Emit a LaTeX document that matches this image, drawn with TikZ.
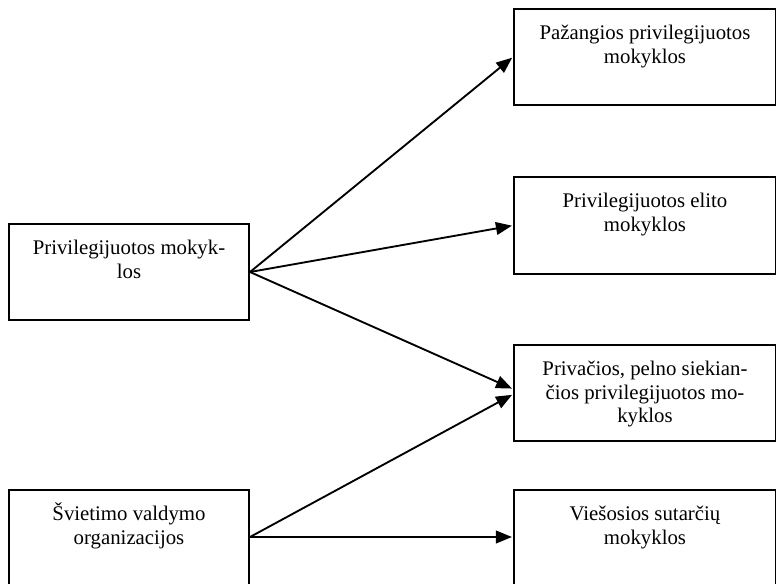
\documentclass[tikz,border=0pt]{standalone}
\usepackage{fontspec}
\setmainfont{Liberation Serif}
\usetikzlibrary{arrows.meta}
\newcommand{\boxtext}[3]{\parbox[c][#2][t]{#1}{\centering\fontsize{15.6pt}{17.6pt}\selectfont\rule{0pt}{23pt}#3}}
\begin{document}
\begin{tikzpicture}[x=0.75pt,y=-0.75pt,
  box/.style={draw=black,line width=1.5pt,inner sep=0pt,anchor=north west},
  conn/.style={line width=1.4pt,-{Triangle[length=12pt,width=9.5pt]},shorten >=0.8pt}]
\useasboundingbox (0,0) rectangle (776,583);
\clip (0,0) rectangle (776,583);
\fill[white] (0,0) rectangle (776,583);
% left boxes
\node[box] (l1) at (8,223) {\boxtext{180pt}{72pt}{Privilegijuotos mokyk-\\los}};
\node[box] (l2) at (8,489) {\boxtext{180pt}{90pt}{Švietimo valdymo\\organizacijos}};
% right boxes
\node[box] (r1) at (513,8) {\boxtext{196.5pt}{72pt}{Pažangios privilegijuotos\\mokyklos}};
\node[box] (r2) at (513,176) {\boxtext{196.5pt}{72.75pt}{Privilegijuotos elito\\mokyklos}};
\node[box] (r3) at (513,344) {\boxtext{196.5pt}{72pt}{Privačios, pelno siekian-\\čios privilegijuotos mo-\\kyklos}};
\node[box] (r4) at (513,489) {\boxtext{196.5pt}{90pt}{Viešosios sutarčių\\mokyklos}};
% connectors
\coordinate (s2) at ([yshift=-36pt]l2.north east);
\coordinate (t4) at ([yshift=-36pt]r4.north west);
\coordinate (t3a) at ([yshift=3pt]r3.west);
\coordinate (t3b) at ([yshift=-1pt]r3.west);
\draw[conn] (l1.east) -- (r1.west);
\draw[conn] (l1.east) -- (r2.west);
\draw[conn] (l1.east) -- (t3a);
\draw[conn] (s2) -- (t3b);
\draw[conn] (s2) -- (t4);
\end{tikzpicture}
\end{document}
